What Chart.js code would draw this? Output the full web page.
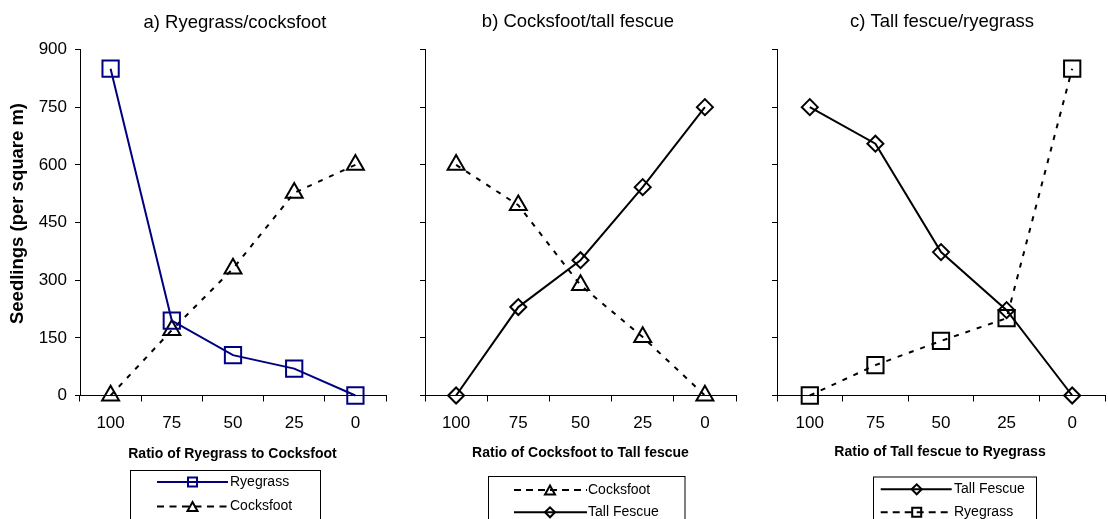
<!DOCTYPE html>
<html><head><meta charset="utf-8">
<script src="https://cdn.jsdelivr.net/npm/chart.js@4.4.1/dist/chart.umd.min.js"></script>
<style>
html,body{margin:0;padding:0;background:#fff;overflow:hidden}
#wrap{position:relative;width:1108px;height:519px;background:#fff;overflow:hidden}
canvas{position:absolute;top:0}
</style></head><body>
<div id="wrap">
<canvas id="ca" style="left:0px" width="400" height="519"></canvas>
<canvas id="cb" style="left:400px" width="360" height="519"></canvas>
<canvas id="cc" style="left:760px" width="360" height="519"></canvas>
</div>
<script>
// ---- data ----
const ratioLabels = ['100', '75', '50', '25', '0'];
const yMin = 0, yMax = 900, yStep = 150;
const ryegrassA = [850, 195, 105, 70, 0];
const cocksfootA = [0, 170, 330, 527, 600];
const cocksfootB = [600, 495, 287, 152, 0];
const tallFescueB = [0, 230, 352, 542, 750];
const tallFescueC = [750, 655, 373, 222, 0];
const ryegrassC = [0, 79, 142, 201, 850];

const FONT = "'Liberation Sans', Arial, sans-serif";
Chart.defaults.font.family = FONT;
Chart.defaults.color = '#000';

function drawMarker(ctx, style, x, y, r, color) {
  ctx.save();
  ctx.strokeStyle = color; ctx.lineWidth = 2; ctx.setLineDash([]);
  ctx.beginPath();
  if (style === 'rect') {
    ctx.rect(x - r, y - r, 2 * r, 2 * r);
  } else if (style === 'triangle') {
    const h = r * 1.8;
    ctx.moveTo(x, y - h / 2);
    ctx.lineTo(x + r, y + h / 2);
    ctx.lineTo(x - r, y + h / 2);
    ctx.closePath();
  } else {
    ctx.moveTo(x - r, y); ctx.lineTo(x, y - r); ctx.lineTo(x + r, y); ctx.lineTo(x, y + r); ctx.closePath();
  }
  ctx.stroke();
  ctx.restore();
}

const decor = {
  id: 'decor',
  afterDraw(chart, args, o) {
    const ctx = chart.ctx;
    ctx.save();
    ctx.fillStyle = '#000';
    ctx.textAlign = 'center'; ctx.textBaseline = 'alphabetic';
    ctx.font = '18.5px ' + FONT;
    ctx.fillText(o.title, o.titleX, o.titleY);
    ctx.font = 'bold 14px ' + FONT;
    ctx.fillText(o.xTitle, o.xTitleX, o.xTitleY);
    if (o.yTitle) {
      ctx.save();
      ctx.translate(o.yTitleX, o.yTitleY);
      ctx.rotate(-Math.PI / 2);
      ctx.font = 'bold 18.5px ' + FONT;
      ctx.textBaseline = 'middle';
      ctx.fillText(o.yTitle, 0, 0);
      ctx.restore();
    }
    const L = o.legend;
    ctx.strokeStyle = '#000'; ctx.lineWidth = 1;
    ctx.strokeRect(L.x, L.y, L.w, L.h);
    chart.data.datasets.forEach((ds, i) => {
      const y = L.rows[i];
      ctx.save();
      ctx.strokeStyle = ds.borderColor; ctx.lineWidth = 2;
      ctx.setLineDash(ds.borderDash && ds.borderDash.length ? L.dash : []);
      ctx.beginPath(); ctx.moveTo(L.x1, y); ctx.lineTo(L.x2, y); ctx.stroke();
      ctx.restore();
      drawMarker(ctx, ds.pointStyle, L.mx, y, ds.pointStyle === 'rect' ? 4.5 : 5, ds.pointBorderColor);
      ctx.fillStyle = '#000';
      ctx.font = '14px ' + FONT; ctx.textAlign = 'left'; ctx.textBaseline = 'middle';
      ctx.fillText(ds.label, L.tx, y);
    });
    ctx.restore();
  }
};

function series(label, data, color, style, dashed) {
  const r = style === 'rect' ? 11.5 : (style === 'triangle' ? 9.8 : 8);
  return {
    label, data, borderColor: color, borderWidth: 2,
    borderDash: dashed ? [5, 7] : [],
    pointStyle: style, pointRadius: r, pointHoverRadius: r,
    pointBorderWidth: 2, pointBorderColor: color,
    pointBackgroundColor: 'rgba(0,0,0,0)',
    tension: 0, clip: false, fill: false
  };
}

function makeChart(id, datasets, cfg) {
  new Chart(document.getElementById(id), {
    type: 'line',
    data: { labels: ratioLabels, datasets },
    plugins: [decor],
    options: {
      responsive: false, animation: false, events: [],
      layout: { padding: { top: 49.5, right: cfg.padRight, bottom: 0, left: 0 } },
      plugins: { legend: { display: false }, tooltip: { enabled: false }, decor: cfg.decor },
      scales: {
        x: {
          type: 'category', offset: true,
          grid: { offset: true, drawOnChartArea: false, drawTicks: true, tickLength: 6, color: '#000', lineWidth: 1 },
          border: { display: true, color: '#000', width: 1 },
          ticks: { font: { size: 17 }, color: '#000', padding: 12, maxRotation: 0, autoSkip: false },
          afterFit: s => { s.height = 123.5; }
        },
        y: {
          min: yMin, max: yMax,
          grid: { drawOnChartArea: false, drawTicks: true, tickLength: 5, color: '#000', lineWidth: 1 },
          border: { display: true, color: '#000', width: 1 },
          ticks: { stepSize: yStep, display: cfg.yLabels, font: { size: 17 }, color: '#000', padding: 8 },
          afterFit: s => { s.width = cfg.yWidth; }
        }
      }
    }
  });
}

makeChart('ca', [
  series('Ryegrass', ryegrassA, '#000080', 'rect', false),
  series('Cocksfoot', cocksfootA, '#000', 'triangle', true)
], {
  yWidth: 80, padRight: 14, yLabels: true,
  decor: {
    title: 'a) Ryegrass/cocksfoot', titleX: 235, titleY: 27.5,
    xTitle: 'Ratio of Ryegrass to Cocksfoot', xTitleX: 232.5, xTitleY: 458,
    yTitle: 'Seedlings (per square m)', yTitleX: 18, yTitleY: 213.5,
    legend: { x: 130.5, y: 470.5, w: 190, h: 60, rows: [482, 506.5], x1: 157, x2: 228, mx: 192.5, tx: 230, dash: [7, 5.5] }
  }
});

makeChart('cb', [
  series('Cocksfoot', cocksfootB, '#000', 'triangle', true),
  series('Tall Fescue', tallFescueB, '#000', 'rectRot', false)
], {
  yWidth: 25, padRight: 24, yLabels: false,
  decor: {
    title: 'b) Cocksfoot/tall fescue', titleX: 178, titleY: 27.3,
    xTitle: 'Ratio of Cocksfoot to Tall fescue', xTitleX: 180.5, xTitleY: 456.7,
    legend: { x: 88.5, y: 476.5, w: 196.5, h: 60, rows: [490, 512.3], x1: 114, x2: 187, mx: 150, tx: 188, dash: [7, 5] }
  }
});

makeChart('cc', [
  series('Tall Fescue', tallFescueC, '#000', 'rectRot', false),
  series('Ryegrass', ryegrassC, '#000', 'rect', true)
], {
  yWidth: 17, padRight: 15, yLabels: false,
  decor: {
    title: 'c) Tall fescue/ryegrass', titleX: 182, titleY: 27,
    xTitle: 'Ratio of Tall fescue to Ryegrass', xTitleX: 180, xTitleY: 455.7,
    legend: { x: 113.5, y: 477, w: 163, h: 60, rows: [489.3, 512.3], x1: 120.7, x2: 191.7, mx: 156.7, tx: 194, dash: [7, 5] }
  }
});
</script>
</body></html>
